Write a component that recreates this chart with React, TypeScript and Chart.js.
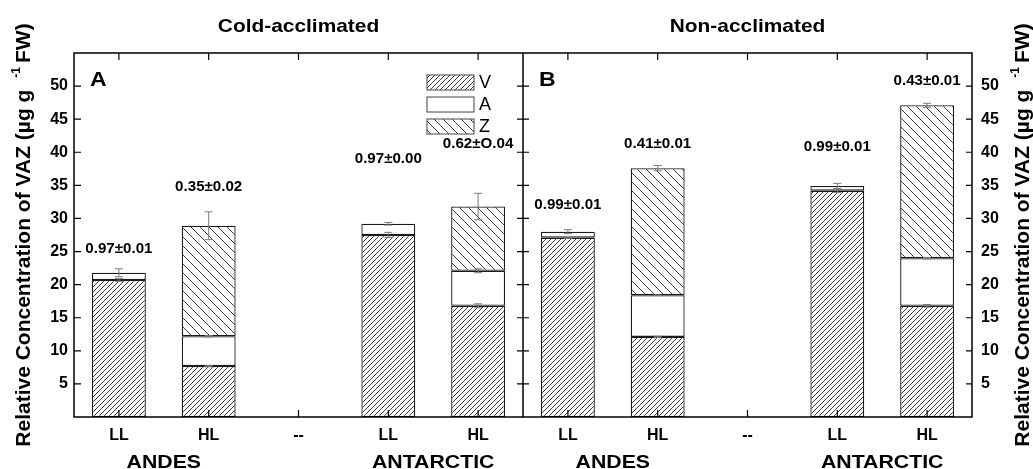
import React, { useEffect, useRef } from 'react';
import { Chart, registerables } from 'chart.js';

Chart.register(...registerables);

// ---- data ----
const CATEGORIES = ['LL', 'HL', '--', 'LL', 'HL', 'LL', 'HL', '--', 'LL', 'HL'];
const GROUP_LABELS = ['ANDES', 'ANTARCTIC', 'ANDES', 'ANTARCTIC'];
const GROUP_PAIRS = [[0, 1], [3, 4], [5, 6], [8, 9]];
const PANEL_TITLES = ['Cold-acclimated', 'Non-acclimated'];
const PANEL_LETTERS = ['A', 'B'];
const SERIES_NAMES = ['V', 'A', 'Z'];

const V_VALUES = [20.7, 7.7, null, 27.5, 16.8, 27.1, 12.1, null, 34.2, 16.8];
const A_VALUES = [1.1, 4.5, null, 1.7, 5.3, 0.9, 6.3, null, 0.7, 7.2];
const Z_VALUES = [null, 16.7, null, null, 9.7, null, 19.2, null, null, 23.1];

const V_ERR = [0.2, 0.1, 0, 0.4, 0.3, 0.1, 0.1, 0, 0.3, 0.2];
const A_ERR = [0.6, 0.1, 0, 0.2, 0.3, 0.3, 0.05, 0, 0.4, 0.1];
const Z_ERR = [0, 2.1, 0, 0, 2.0, 0, 0.4, 0, 0, 0.3];

const RATIO_LABELS = ['0.97±0.01', '0.35±0.02', '', '0.97±0.00', '0.62±O.04', '0.99±0.01', '0.41±0.01', '', '0.99±0.01', '0.43±0.01'];
const RATIO_LABEL_Y = [25.3, 34.8, null, 39.0, 41.3, 32.0, 41.3, null, 40.7, 50.8];

const Y_MIN = 0;
const Y_MAX = 55;
const Y_STEP = 5;

const Y_TITLE_MAIN = 'Relative Concentration of VAZ (µg g';
const Y_TITLE_SUP = '-1';
const Y_TITLE_END = 'FW)';

const FONT = '"Liberation Sans", Arial, sans-serif';

function makeHatch(size: number, forward: boolean, color: string, lw: number) {
  const c = document.createElement('canvas');
  c.width = size;
  c.height = size;
  const g = c.getContext('2d')!;
  g.fillStyle = '#ffffff';
  g.fillRect(0, 0, size, size);
  g.strokeStyle = color;
  g.lineWidth = lw;
  g.beginPath();
  for (let k = -1; k <= 1; k++) {
    if (forward) {
      g.moveTo(k * size, size);
      g.lineTo(k * size + size, 0);
    } else {
      g.moveTo(k * size, 0);
      g.lineTo(k * size + size, size);
    }
  }
  g.stroke();
  return g.createPattern(c, 'repeat') as CanvasPattern;
}

function stretchedText(ctx: CanvasRenderingContext2D, text: string, x: number, y: number, font: string, sx: number) {
  ctx.save();
  ctx.font = font;
  ctx.textAlign = 'center';
  ctx.textBaseline = 'middle';
  ctx.translate(x, y);
  ctx.scale(sx, 1);
  ctx.fillText(text, 0, 0);
  ctx.restore();
}

function drawYTitle(ctx: CanvasRenderingContext2D, xBase: number, yCenter: number) {
  ctx.save();
  ctx.fillStyle = '#000';
  const mainFont = `bold 21px ${FONT}`;
  const supFont = `bold 12px ${FONT}`;
  ctx.font = mainFont;
  const w1 = ctx.measureText(Y_TITLE_MAIN).width;
  const w3 = ctx.measureText(Y_TITLE_END).width;
  ctx.font = supFont;
  const w2 = ctx.measureText(Y_TITLE_SUP).width;
  const gap1 = 12;
  const gap2 = 4;
  const total = w1 + gap1 + w2 + gap2 + w3;
  ctx.translate(xBase, yCenter);
  ctx.rotate(-Math.PI / 2);
  ctx.textAlign = 'left';
  ctx.textBaseline = 'alphabetic';
  let x = -total / 2;
  ctx.font = mainFont;
  ctx.fillText(Y_TITLE_MAIN, x, 0);
  x += w1 + gap1;
  ctx.font = supFont;
  ctx.fillText(Y_TITLE_SUP, x, -10);
  x += w2 + gap2;
  ctx.font = mainFont;
  ctx.fillText(Y_TITLE_END, x, 0);
  ctx.restore();
}

const ERRS = [V_ERR, A_ERR, Z_ERR];

export default function App() {
  const ref = useRef<HTMLCanvasElement | null>(null);

  useEffect(() => {
    const canvas = ref.current;
    if (!canvas) return;
    const patV = makeHatch(5, true, '#3a3a3a', 1);
    const patZ = makeHatch(9, false, '#3a3a3a', 1);
    const fills: (CanvasPattern | string)[] = [patV, '#ffffff', patZ];

    const decor = {
      id: 'decor',
      afterDatasetsDraw(chart: any) {
        const ctx: CanvasRenderingContext2D = chart.ctx;
        const ys = chart.scales.y;
        ctx.save();
        ctx.strokeStyle = '#7a7a7a';
        ctx.lineWidth = 1;
        const all = chart.data.datasets.map((d: any) => d.data);
        for (let d = 0; d < all.length; d++) {
          const meta = chart.getDatasetMeta(d);
          for (let i = 0; i < CATEGORIES.length; i++) {
            const v = all[d][i];
            const e = ERRS[d][i];
            if (v == null || !e) continue;
            let cum = 0;
            for (let k = 0; k <= d; k++) cum += all[k][i] ?? 0;
            const x = meta.data[i].x;
            const y1 = ys.getPixelForValue(cum + e);
            const y2 = ys.getPixelForValue(cum - e);
            ctx.beginPath();
            ctx.moveTo(x, y1);
            ctx.lineTo(x, y2);
            ctx.moveTo(x - 4, y1);
            ctx.lineTo(x + 4, y1);
            ctx.moveTo(x - 4, y2);
            ctx.lineTo(x + 4, y2);
            ctx.stroke();
          }
        }
        ctx.restore();
      },
      afterDraw(chart: any) {
        const ctx: CanvasRenderingContext2D = chart.ctx;
        const { left, right, top, bottom } = chart.chartArea;
        const xs = chart.scales.x;
        const ys = chart.scales.y;
        const divider = (xs.getPixelForValue(4) + xs.getPixelForValue(5)) / 2;
        ctx.save();
        ctx.strokeStyle = '#000';
        ctx.lineWidth = 1.5;
        ctx.strokeRect(left, top, right - left, bottom - top);
        ctx.beginPath();
        ctx.moveTo(divider, top);
        ctx.lineTo(divider, bottom);
        ctx.stroke();
        // ticks
        ctx.lineWidth = 1.2;
        ctx.beginPath();
        for (let i = 0; i < CATEGORIES.length; i++) {
          const px = xs.getPixelForValue(i);
          ctx.moveTo(px, bottom);
          ctx.lineTo(px, bottom - 7);
          ctx.moveTo(px, top);
          ctx.lineTo(px, top + 7);
        }
        for (let v = Y_STEP; v < Y_MAX; v += Y_STEP) {
          const py = ys.getPixelForValue(v);
          ctx.moveTo(left, py);
          ctx.lineTo(left + 7, py);
          ctx.moveTo(divider - 6, py);
          ctx.lineTo(divider + 6, py);
          ctx.moveTo(right - 6, py);
          ctx.lineTo(right, py);
        }
        ctx.stroke();

        ctx.fillStyle = '#000';
        // ratio labels
        for (let i = 0; i < CATEGORIES.length; i++) {
          const yv = RATIO_LABEL_Y[i];
          if (yv == null || !RATIO_LABELS[i]) continue;
          stretchedText(ctx, RATIO_LABELS[i], xs.getPixelForValue(i), ys.getPixelForValue(yv), `bold 14px ${FONT}`, 1.08);
        }
        // group labels
        GROUP_PAIRS.forEach((p, gi) => {
          const cx = (xs.getPixelForValue(p[0]) + xs.getPixelForValue(p[1])) / 2;
          stretchedText(ctx, GROUP_LABELS[gi], cx, bottom + 46, `bold 19px ${FONT}`, 1.12);
        });
        // panel titles & letters
        const panels = [[left, divider], [divider, right]];
        panels.forEach((p, pi) => {
          stretchedText(ctx, PANEL_TITLES[pi], (p[0] + p[1]) / 2, top - 26, `bold 19px ${FONT}`, 1.1);
          ctx.save();
          ctx.font = `bold 21px ${FONT}`;
          ctx.textAlign = 'left';
          ctx.textBaseline = 'alphabetic';
          ctx.translate(p[0] + 16, top + 33);
          ctx.scale(1.1, 1);
          ctx.fillText(PANEL_LETTERS[pi], 0, 0);
          ctx.restore();
        });
        // legend
        const lx = divider - 96;
        SERIES_NAMES.forEach((name, k) => {
          const by = top + 22 + k * 22;
          ctx.fillStyle = fills[k] as any;
          ctx.fillRect(lx, by, 47, 15);
          ctx.strokeStyle = '#444';
          ctx.lineWidth = 1;
          ctx.strokeRect(lx, by, 47, 15);
          ctx.fillStyle = '#000';
          ctx.font = `18px ${FONT}`;
          ctx.textAlign = 'left';
          ctx.textBaseline = 'middle';
          ctx.fillText(name, lx + 52, by + 8);
        });
        // axis titles
        drawYTitle(ctx, 30, 235);
        drawYTitle(ctx, 1029, 235);
        ctx.restore();
      },
    };

    const tickFont = { family: FONT, weight: 'bold' as const, size: 16 };
    const yTicks = {
      stepSize: Y_STEP,
      color: '#000',
      font: tickFont,
      callback: (v: any) => (v > Y_MIN && v < Y_MAX ? String(v) : ''),
    };

    const chart = new Chart(canvas, {
      type: 'bar',
      data: {
        labels: CATEGORIES,
        datasets: [V_VALUES, A_VALUES, Z_VALUES].map((vals, k) => ({
          label: SERIES_NAMES[k],
          data: vals as any,
          backgroundColor: fills[k] as any,
          borderColor: '#1a1a1a',
          borderWidth: 1.3,
          borderSkipped: false,
          barPercentage: 0.6,
          categoryPercentage: 1,
        })),
      },
      options: {
        animation: false,
        responsive: true,
        maintainAspectRatio: false,
        layout: { padding: { top: 53, left: 0, right: 0, bottom: 0 } },
        plugins: { legend: { display: false }, tooltip: { enabled: false } },
        scales: {
          x: {
            stacked: true,
            offset: true,
            grid: { display: false, drawTicks: false },
            border: { display: false },
            ticks: { color: '#000', font: tickFont, padding: 9, autoSkip: false, maxRotation: 0 },
            afterFit: (s: any) => {
              s.height = 52;
            },
          },
          y: {
            stacked: true,
            min: Y_MIN,
            max: Y_MAX,
            position: 'left',
            grid: { display: false, drawTicks: false },
            border: { display: false },
            ticks: { ...yTicks, padding: 6 },
            afterFit: (s: any) => {
              s.width = 74;
            },
          },
          y2: {
            type: 'linear',
            min: Y_MIN,
            max: Y_MAX,
            position: 'right',
            grid: { display: false, drawTicks: false },
            border: { display: false },
            ticks: { ...yTicks, padding: 9 },
            afterFit: (s: any) => {
              s.width = 61;
            },
          },
        },
      },
      plugins: [decor],
    });
    return () => chart.destroy();
  }, []);

  return (
    <div style={{ position: 'absolute', left: 0, top: 0, width: 1033, height: 469, background: '#fff' }}>
      <canvas ref={ref} />
    </div>
  );
}
